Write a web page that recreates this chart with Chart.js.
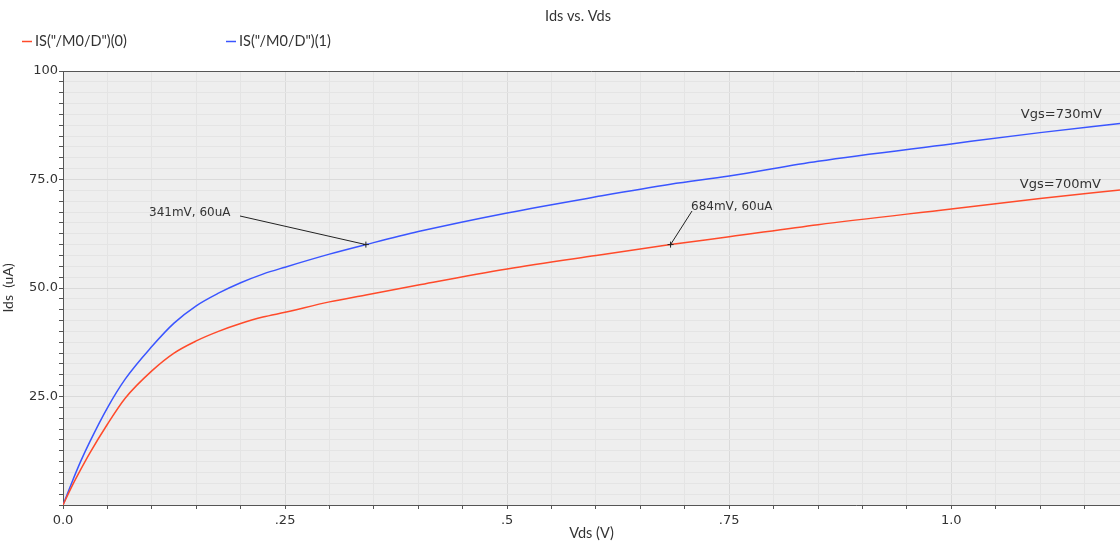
<!DOCTYPE html>
<html>
<head>
<meta charset="utf-8">
<title>Ids vs. Vds</title>
<script src="https://cdn.jsdelivr.net/npm/chart.js@4.4.1/dist/chart.umd.min.js"></script>
<style>
  html, body { margin: 0; padding: 0; background: #ffffff; }
  #wrap { width: 1120px; height: 544px; position: relative; }
</style>
</head>
<body>
<div id="wrap"><canvas id="c" width="1120" height="544"></canvas></div>
<script>
// Drain voltage sweep (V)
const vds = [0, 0.01, 0.02, 0.03, 0.05, 0.07, 0.1, 0.125, 0.15, 0.175, 0.2, 0.225, 0.25,
             0.3, 0.341, 0.4, 0.5, 0.6, 0.684, 0.75, 0.85, 1.0, 1.1, 1.19];
// Drain current (uA) at Vgs = 700 mV
const ids700 = [0, 4.3, 8.2, 11.9, 18.6, 24.6, 30.9, 35.0, 37.8, 40.0, 41.8, 43.3, 44.4,
                46.8, 48.4, 50.7, 54.4, 57.5, 60.0, 61.8, 64.6, 68.2, 70.6, 72.6];
// Drain current (uA) at Vgs = 730 mV
const ids730 = [0, 5.2, 10.1, 14.5, 22.4, 29.0, 36.5, 41.9, 45.9, 48.8, 51.2, 53.2, 54.8,
                57.8, 60.0, 63.0, 67.3, 71.0, 73.9, 75.8, 79.2, 83.2, 85.8, 87.9];

const seriesNames = ['IS("/M0/D")(0)', 'IS("/M0/D")(1)'];
const curveLabels = ['Vgs=700mV', 'Vgs=730mV'];
const xTickLabels = { 0: '0.0', 0.25: '.25', 0.5: '.5', 0.75: '.75', 1: '1.0' };
const yTickLabels = { 25: '25.0', 50: '50.0', 75: '75.0', 100: '100' };

// Marker readouts: [Vds (V), Ids (uA), text]
const markerVds = [0.341, 0.684];
const markerIds = [60, 60];
const markerText = ['341mV, 60uA', '684mV, 60uA'];

const RED = '#ff4a2a';
const BLUE = '#3a55ff';
const AXIS = '#555555';
const TEXT = '#333333';

function pts(xs, ys) { return xs.map((x, i) => ({ x: x, y: ys[i] })); }
function near(v, m) { const r = v / m; return Math.abs(r - Math.round(r)) < 1e-6; }

const decor = {
  id: 'decor',
  beforeDraw(chart) {
    const { ctx, chartArea: a } = chart;
    ctx.save();
    ctx.fillStyle = '#eeeeee';
    ctx.fillRect(a.left, a.top, a.right - a.left, a.bottom - a.top);
    ctx.restore();
  },
  afterDraw(chart) {
    const { ctx, chartArea: a, scales } = chart;
    const xs = scales.x, ys = scales.y;
    ctx.save();
    // top frame line
    ctx.strokeStyle = AXIS;
    ctx.lineWidth = 1;
    ctx.beginPath();
    ctx.moveTo(a.left, a.top + 0.5);
    ctx.lineTo(a.right, a.top + 0.5);
    ctx.stroke();

    // title
    ctx.fillStyle = TEXT;
    ctx.font = '14.5px Lato';
    ctx.textAlign = 'center';
    ctx.textBaseline = 'middle';
    ctx.fillText('Ids vs. Vds', 578, 16);

    // legend
    ctx.textAlign = 'left';
    const legX = [22, 226];
    chart.data.datasets.forEach((ds, i) => {
      ctx.strokeStyle = ds.borderColor;
      ctx.lineWidth = 1.5;
      ctx.beginPath();
      ctx.moveTo(legX[i], 41.5);
      ctx.lineTo(legX[i] + 10, 41.5);
      ctx.stroke();
      ctx.fillStyle = TEXT;
      ctx.fillText(ds.label, legX[i] + 13, 41);
    });

    // curve labels at right edge
    ctx.font = '13px "DejaVu Sans"';
    ctx.textAlign = 'right';
    ctx.fillStyle = TEXT;
    ctx.fillText(curveLabels[1], 1102, 115);
    ctx.fillText(curveLabels[0], 1101, 185);

    // marker readouts
    const textPos = [[149, 213, 240, 216], [691, 207, 692, 211]];
    ctx.font = '12px "DejaVu Sans"';
    ctx.textAlign = 'left';
    markerVds.forEach((v, i) => {
      const px = xs.getPixelForValue(v);
      const py = ys.getPixelForValue(markerIds[i]);
      const [tx, ty, lx, ly] = textPos[i];
      ctx.fillStyle = TEXT;
      ctx.fillText(markerText[i], tx, ty);
      ctx.strokeStyle = '#222222';
      ctx.lineWidth = 1;
      ctx.beginPath();
      ctx.moveTo(lx, ly);
      ctx.lineTo(px, py);
      ctx.stroke();
      ctx.beginPath();
      ctx.moveTo(px - 3, py);
      ctx.lineTo(px + 3, py);
      ctx.moveTo(px, py - 3);
      ctx.lineTo(px, py + 3);
      ctx.stroke();
    });
    ctx.restore();
  }
};

new Chart(document.getElementById('c'), {
  type: 'line',
  data: {
    datasets: [
      { label: seriesNames[0], data: pts(vds, ids700), borderColor: RED, borderWidth: 1.5,
        pointRadius: 0, cubicInterpolationMode: 'monotone', fill: false },
      { label: seriesNames[1], data: pts(vds, ids730), borderColor: BLUE, borderWidth: 1.5,
        pointRadius: 0, cubicInterpolationMode: 'monotone', fill: false }
    ]
  },
  options: {
    responsive: false,
    animation: false,
    events: [],
    layout: { padding: { top: 71, right: 0, left: 0, bottom: 0 } },
    plugins: { legend: { display: false }, title: { display: false }, tooltip: { enabled: false } },
    scales: {
      x: {
        type: 'linear',
        min: 0,
        max: 1.19,
        afterFit(s) { s.height = 39; },
        afterBuildTicks(s) {
          const t = [];
          for (let i = 0; i <= 23; i++) t.push({ value: +(i * 0.05).toFixed(2) });
          s.ticks = t;
        },
        ticks: {
          autoSkip: false,
          maxRotation: 0,
          padding: 4,
          color: TEXT,
          font: { family: 'DejaVu Sans', size: 13 },
          callback(v) {
            for (const k in xTickLabels) if (Math.abs(v - k) < 1e-6) return xTickLabels[k];
            return '';
          }
        },
        grid: {
          color: (c) => (c.tick && near(c.tick.value, 0.25)) ? '#dadada' : '#e4e4e4',
          tickColor: AXIS,
          tickLength: 4,
          drawTicks: true
        },
        border: { color: AXIS, width: 1 },
        title: {
          display: true, text: 'Vds (V)', color: TEXT,
          font: { family: 'Lato', size: 14.5 },
          padding: { top: 0, bottom: 2 }
        }
      },
      y: {
        type: 'linear',
        min: 0,
        max: 100,
        afterFit(s) { s.width = 63; },
        afterBuildTicks(s) {
          const t = [];
          for (let i = 0; i <= 40; i++) t.push({ value: +(i * 2.5).toFixed(1) });
          s.ticks = t;
        },
        ticks: {
          autoSkip: false,
          padding: 1,
          color: TEXT,
          font: { family: 'DejaVu Sans', size: 13 },
          callback(v) {
            for (const k in yTickLabels) if (Math.abs(v - k) < 1e-6) return yTickLabels[k];
            return '';
          }
        },
        grid: {
          color: (c) => (c.tick && near(c.tick.value, 25)) ? '#dadada' : '#e4e4e4',
          tickColor: AXIS,
          tickLength: 4
        },
        border: { color: AXIS, width: 1 },
        title: {
          display: true, text: 'Ids  (uA)', color: TEXT,
          font: { family: 'Lato', size: 14 },
          padding: { top: 0, bottom: 0 }
        }
      }
    }
  },
  plugins: [decor]
});
</script>
</body>
</html>
